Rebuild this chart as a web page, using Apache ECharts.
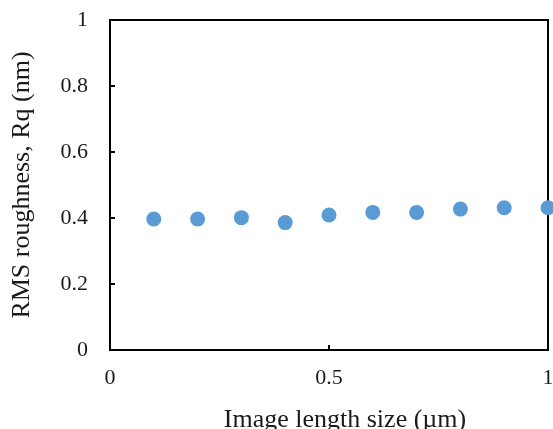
<!DOCTYPE html>
<html>
<head>
<meta charset="utf-8">
<script src="https://cdn.jsdelivr.net/npm/echarts@6/dist/echarts.min.js"></script>
<style>
  html, body { margin: 0; padding: 0; background: #fff; }
  #chart { width: 553px; height: 429px; }
</style>
</head>
<body>
<div id="chart"></div>
<script>
// image length size (um) and RMS roughness Rq (nm)
const sizes = [0.1, 0.2, 0.3, 0.4, 0.5, 0.6, 0.7, 0.8, 0.9, 1.0]
const rq = [0.397, 0.397, 0.401, 0.386, 0.409, 0.417, 0.417, 0.427, 0.431, 0.431]

const chart = echarts.init(document.getElementById('chart'))
const font = 'Liberation Serif, Times New Roman, serif'

const axisCommon = {
  axisLine: { show: true, lineStyle: { color: '#000', width: 2 } },
  axisTick: { show: true, inside: true, length: 5, lineStyle: { color: '#000', width: 2 } },
  splitLine: { show: false },
  nameLocation: 'middle',
  nameTextStyle: { fontFamily: font, fontSize: 26, color: '#1a1a1a' },
  axisLabel: { fontFamily: font, fontSize: 22, color: '#1a1a1a' }
}

chart.setOption({
  animation: false,
  backgroundColor: '#fff',
  grid: {
    left: 110, right: 5, top: 20, bottom: 79,
    outerBoundsMode: 'none',
    containLabel: false,
    show: true, borderColor: '#000', borderWidth: 2
  },
  xAxis: Object.assign({}, axisCommon, {
    type: 'value', min: 0, max: 1, interval: 0.5,
    name: 'Image length size (\u00b5m)', nameGap: 57,
    // title sits a little right of the plot centre in the original
    nameTextStyle: Object.assign({}, axisCommon.nameTextStyle, { padding: [0, 0, 0, 32] }),
    axisLabel: Object.assign({}, axisCommon.axisLabel, { margin: 17 })
  }),
  yAxis: Object.assign({}, axisCommon, {
    type: 'value', min: 0, max: 1, interval: 0.2,
    name: 'RMS roughness, Rq (nm)', nameGap: 75,
    axisLabel: Object.assign({}, axisCommon.axisLabel, { margin: 22 })
  }),
  series: [{
    type: 'scatter',
    data: sizes.map((x, i) => [x, rq[i]]),
    symbol: 'circle',
    symbolSize: 15,
    itemStyle: { color: '#5B9BD5', opacity: 1 }
  }]
})
</script>
</body>
</html>
